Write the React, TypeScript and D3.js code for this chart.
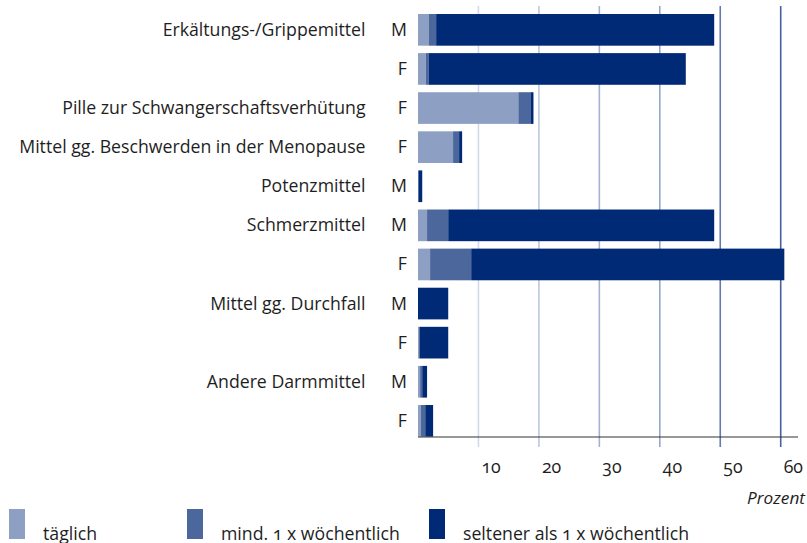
import React from 'react';
import * as d3 from 'd3';

// Zeilen: Kategorie (nur bei erster Zeile), Geschlecht
const categories = [
  'Erkältungs-/Grippemittel', '', 'Pille zur Schwangerschaftsverhütung',
  'Mittel gg. Beschwerden in der Menopause', 'Potenzmittel', 'Schmerzmittel', '',
  'Mittel gg. Durchfall', '', 'Andere Darmmittel', '',
];
const sexes = ['M', 'F', 'F', 'F', 'M', 'M', 'F', 'M', 'F', 'M', 'F'];

// Prozent je Häufigkeit
const taeglich = [1.8, 1.3, 16.6, 5.8, 0.0, 1.5, 2.0, 0.0, 0.1, 0.35, 0.5];
const woechentlich = [1.2, 0.5, 2.0, 1.0, 0.1, 3.5, 6.8, 0.0, 0.2, 0.35, 0.7];
const seltener = [46.0, 42.5, 0.5, 0.5, 0.6, 44.0, 51.8, 5.0, 4.7, 0.8, 1.3];

const seriesNames = ['täglich', 'mind. 1 x wöchentlich', 'seltener als 1 x wöchentlich'];
const seriesColors = ['#8da0c4', '#4b679b', '#012a76'];
const ticks = [10, 20, 30, 40, 50, 60];
const gridColors = ['#d2d9ea', '#bcc7df', '#a3b2d3', '#95a6cb', '#6479b0', '#4760a0'];

const W = 807;
const H = 543;
const font = '"Open Sans", sans-serif';
const fs = 17.7;
const textColor = '#1e1e1e';

export default function App() {
  const x = d3.scaleLinear().domain([0, 60]).range([418, 780.7]);
  const rows = d3.range(sexes.length);
  const y = d3.scaleBand<number>().domain(rows).range([10.3, 440.4]).paddingInner(0.19).paddingOuter(0.095);

  const table = rows.map((i) => ({ i, t: taeglich[i], w: woechentlich[i], s: seltener[i] }));
  const stacked = d3.stack<any>().keys(['t', 'w', 's'])(table);

  const axisY = 437;

  return (
    <svg width={W} height={H} style={{ position: 'absolute', left: 0, top: 0, fontFamily: font }}>
      {ticks.map((t, k) => (
        <line key={t} x1={x(t)} x2={x(t)} y1={6} y2={axisY + 10} stroke={gridColors[k]} strokeWidth={1.6} />
      ))}
      {stacked.map((layer, si) => (
        <g key={si} fill={seriesColors[si]}>
          {layer.map((d, i) => (
            <rect key={i} x={x(d[0])} y={y(i)} width={Math.max(0, x(d[1]) - x(d[0]))} height={y.bandwidth()} />
          ))}
        </g>
      ))}
      <line x1={418} x2={798} y1={axisY} y2={axisY} stroke="#333" strokeWidth={1.2} />
      {rows.map((i) => (
        <g key={i} fontSize={fs} fill={textColor}>
          {categories[i] && (
            <text x={365.5} y={y(i)! + y.bandwidth() / 2 + 6} textAnchor="end">{categories[i]}</text>
          )}
          <text x={407} y={y(i)! + y.bandwidth() / 2 + 6} textAnchor="end">{sexes[i]}</text>
        </g>
      ))}
      {ticks.map((t) => (
        <text key={t} x={x(t) + 3} y={473} fontSize={fs} fill={textColor} style={{ fontVariantNumeric: 'oldstyle-nums' }}>{t}</text>
      ))}
      <text x={805} y={503.5} textAnchor="end" fontSize={fs - 0.5} fontStyle="italic" fill={textColor}>Prozent</text>
      {seriesNames.map((n, k) => {
        const lx = [9, 187, 429][k];
        return (
          <g key={n}>
            <rect x={lx} y={509} width={16} height={30} fill={seriesColors[k]} />
            <text x={lx + 34} y={539.5} fontSize={fs} fill={textColor} style={{ fontVariantNumeric: 'oldstyle-nums' }}>{n}</text>
          </g>
        );
      })}
    </svg>
  );
}
